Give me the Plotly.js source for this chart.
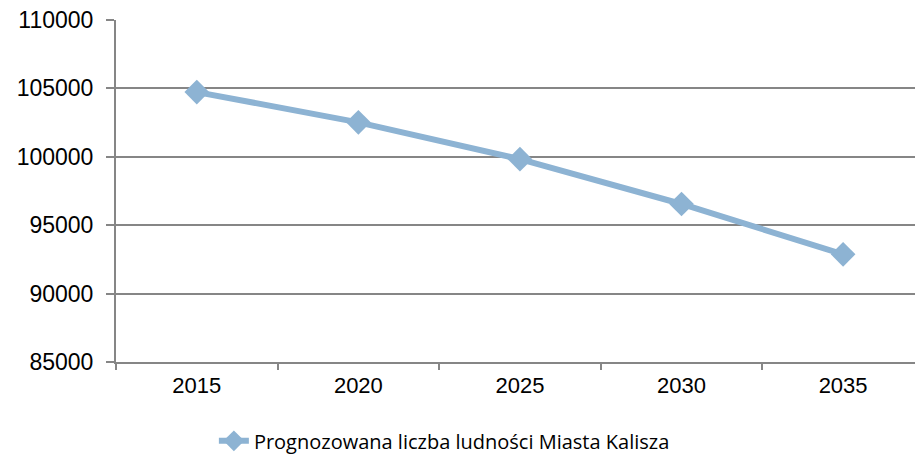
<!DOCTYPE html>
<html><head><meta charset="utf-8">
<script src="https://cdn.plot.ly/plotly-3.0.1.min.js"></script>
<style>html,body{margin:0;padding:0;background:#fff;}#chart{width:915px;height:465px;}</style>
</head><body><div id="chart"></div>
<script>
const years = ['2015','2020','2025','2030','2035'];
const population = [104730, 102520, 99830, 96550, 92870];
const seriesName = 'Prognozowana liczba ludności Miasta Kalisza';
const yTicks = [85000, 90000, 95000, 100000, 105000, 110000];

const trace = {
  x: years, y: population, type: 'scatter', mode: 'lines+markers', name: seriesName,
  line: {color: '#8db3d3', width: 6},
  marker: {symbol: 'diamond', size: 19, color: '#8db3d3'}
};
const layout = {
  width: 915, height: 465,
  margin: {l: 116, r: 0, t: 20, b: 103},
  paper_bgcolor: '#fff', plot_bgcolor: '#fff',
  font: {family: 'Liberation Sans, Arial, sans-serif', size: 23, color: '#000'},
  xaxis: {type: 'category', range: [-0.5, 4.445], showgrid: false, showline: true,
    linecolor: '#868686', linewidth: 2, ticks: 'outside', tickson: 'boundaries',
    ticklen: 6, tickcolor: '#868686', tickwidth: 2, zeroline: false,
    tickfont: {size: 22}, ticklabelstandoff: 3, automargin: false},
  yaxis: {range: [85000, 110000], tickvals: yTicks, ticktext: yTicks.map(String),
    showgrid: true, gridcolor: '#868686', gridwidth: 2, showline: true,
    linecolor: '#868686', linewidth: 2, ticks: 'outside', ticklen: 8,
    tickcolor: '#868686', tickwidth: 2, zeroline: false, tickfont: {size: 23},
    ticklabelstandoff: 8, automargin: false},
  showlegend: true,
  legend: {orientation: 'h', x: 0.1225, xanchor: 'left', yref: 'container', y: 0.052, yanchor: 'middle',
    font: {family: 'Open Sans, Noto Sans, sans-serif', size: 20}, bgcolor: 'rgba(0,0,0,0)'}
};
Plotly.newPlot('chart', [trace], layout, {displayModeBar: false, staticPlot: true});
</script></body></html>
